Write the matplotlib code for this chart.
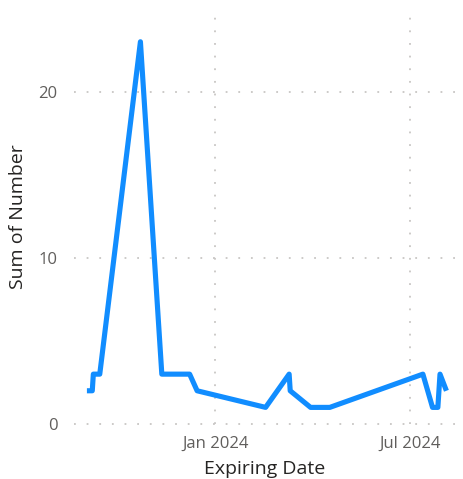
import matplotlib.pyplot as plt
import pandas as pd

plt.rcParams["font.family"] = ["Open Sans", "DejaVu Sans"]

# Expiry dates and summed counts
expiring_dates = [
    "2023-09-03", "2023-09-08", "2023-09-09", "2023-09-15", "2023-10-23",
    "2023-11-12", "2023-12-08", "2023-12-15", "2024-02-17", "2024-03-10",
    "2024-03-11", "2024-03-30", "2024-04-17", "2024-07-13", "2024-07-22",
    "2024-07-27", "2024-07-29", "2024-08-04",
]
sum_of_number = [2, 2, 3, 3, 23, 3, 3, 2, 1, 3, 2, 1, 1, 3, 1, 1, 3, 2]

y_ticks = [0, 10, 20]
x_ticks = ["2024-01-01", "2024-07-01"]
x_tick_labels = ["Jan 2024", "Jul 2024"]

LINE_COLOR = "#118DFF"
GRID_COLOR = "#C8C6C4"
TICK_COLOR = "#605E5C"
TITLE_COLOR = "#252423"

dates = pd.to_datetime(expiring_dates)

fig = plt.figure(figsize=(4.63, 4.79), dpi=100)
ax = fig.add_axes([0.160, 0.1148, 0.825, 0.864])

ax.plot(dates, sum_of_number, color=LINE_COLOR, linewidth=3.7,
        solid_joinstyle="round", solid_capstyle="butt", zorder=3)

ax.set_xlim(pd.Timestamp("2023-08-22"), pd.Timestamp("2024-08-13"))
ax.set_ylim(0, 24.9)

ax.set_yticks(y_ticks)
ax.set_xticks(pd.to_datetime(x_ticks))
ax.set_xticklabels(x_tick_labels)

# dotted gridlines at the ticks only
for v in y_ticks:
    ax.axhline(v, color=GRID_COLOR, linestyle=(0, (1, 6)), linewidth=1.3,
               zorder=1, clip_on=False)
for d in pd.to_datetime(x_ticks):
    ax.axvline(d, color=GRID_COLOR, linestyle=(0, (1, 6)), linewidth=1.3,
               zorder=1)

for s in ax.spines.values():
    s.set_visible(False)

ax.tick_params(axis="both", length=0, colors=TICK_COLOR, labelsize=12)
ax.tick_params(axis="y", pad=12)
ax.tick_params(axis="x", pad=8.5)

ax.set_xlabel("Expiring Date", fontsize=14, color=TITLE_COLOR, labelpad=6)
ax.set_ylabel("Sum of Number", fontsize=14, color=TITLE_COLOR, labelpad=8)

fig.savefig("out.png", dpi=100)
